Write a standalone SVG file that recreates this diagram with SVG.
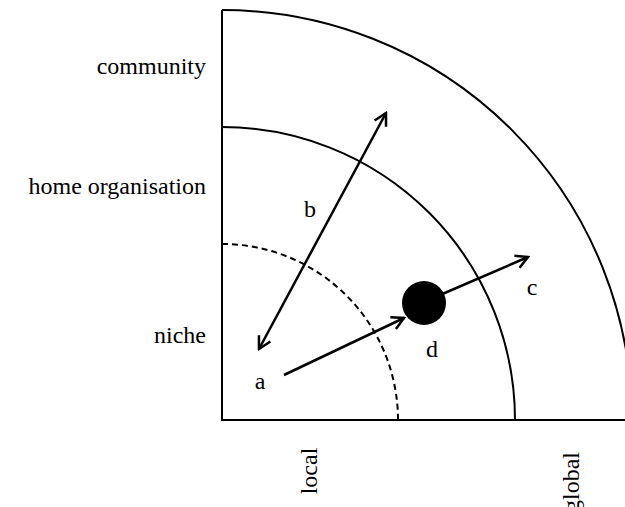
<svg xmlns="http://www.w3.org/2000/svg" width="625" height="507" viewBox="0 0 625 507">
<style>
.t{font-family:"Liberation Serif","Times New Roman",serif;font-size:24px;fill:#000}
.ax{fill:none;stroke:#000;stroke-width:2}
.ar{fill:none;stroke:#000;stroke-width:2.5}
</style>
<defs>
<marker id="h" viewBox="0 0 16 16" refX="14" refY="8" markerWidth="16" markerHeight="16" markerUnits="userSpaceOnUse" orient="auto-start-reverse">
<path d="M2,1.5 L14,8 L2,14.5" fill="none" stroke="#000" stroke-width="2.5"/>
</marker>
</defs>
<rect width="625" height="507" fill="#fff"/>
<g id="axes">
<path class="ax" d="M222,10 V420 H625"/>
<path class="ax" d="M222,10 A410,410 0 0 1 632,420"/>
<path class="ax" d="M222,127 A293,293 0 0 1 515,420"/>
<path class="ax" d="M222,244 A176,176 0 0 1 398,420" stroke-dasharray="6,4"/>
</g>
<g id="labels">
<text class="t" x="206" y="74" text-anchor="end">community</text>
<text class="t" x="206" y="194" text-anchor="end">home organisation</text>
<text class="t" x="206" y="343" text-anchor="end">niche</text>
<text class="t" transform="translate(317,471) rotate(-90)" text-anchor="middle">local</text>
<text class="t" transform="translate(579,482) rotate(-90)" text-anchor="middle">global</text>
</g>
<g id="d">
<circle cx="424" cy="303" r="22" fill="#000"/>
<text class="t" x="432" y="357" text-anchor="middle">d</text>
</g>
<g id="a"><text class="t" x="260" y="389" text-anchor="middle">a</text></g>
<g id="b"><text class="t" x="310" y="217" text-anchor="middle">b</text></g>
<g id="c"><text class="t" x="532" y="295" text-anchor="middle">c</text></g>
<g id="connectors">
<line class="ar" x1="259" y1="349" x2="386" y2="113" marker-start="url(#h)" marker-end="url(#h)"/>
<line class="ar" x1="284" y1="375" x2="404" y2="318" marker-end="url(#h)"/>
<line class="ar" x1="440" y1="295" x2="528" y2="257" marker-end="url(#h)"/>
</g>
</svg>
